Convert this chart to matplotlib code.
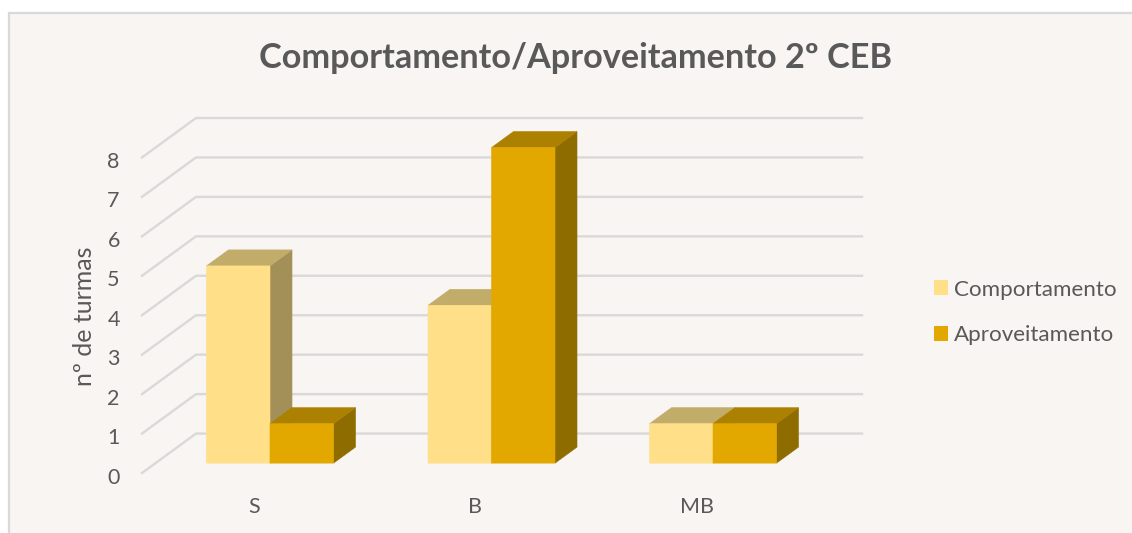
import matplotlib
matplotlib.use("Agg")
import matplotlib.pyplot as plt
from matplotlib.patches import Rectangle, Polygon, Patch
from matplotlib.transforms import ScaledTranslation

categories = ["S", "B", "MB"]
comportamento = [5, 4, 1]
aproveitamento = [1, 8, 1]
y_ticks = [0, 1, 2, 3, 4, 5, 6, 7, 8]

W, H = 1132, 533
plt.rcParams['font.family'] = ['Lato', 'DejaVu Sans']
TXT = '#595959'
GRID = '#D9D9D9'
BG = '#F8F5F2'

fig = plt.figure(figsize=(W/100, H/100), dpi=100, facecolor='white')
fig.add_artist(Rectangle((8.5/W, -0.02), 1.1, 1-12.5/H+0.02, transform=fig.transFigure,
                         facecolor=BG, edgecolor=GRID, linewidth=1.6, zorder=-5))

# axes: y=0 at px 473, y=9 at px 118; x from px 142 to 862
ax = fig.add_axes([142/W, 1-473/H, 720/W, 355/H])
ax.patch.set_alpha(0)
unit_x = 221.5
x0 = (142-270)/unit_x
x1 = (862-270)/unit_x
ax.set_xlim(x0, x1)
ax.set_ylim(0, 9)
for s in ax.spines.values():
    s.set_visible(False)

wall_dx = 54/unit_x
for k in range(len(y_ticks)+0):
    ax.plot([x0, x0+wall_dx, x1], [k, k+1, k+1], color=GRID, lw=1.7, zorder=1,
            solid_joinstyle='miter', clip_on=False)

bar_w = 63.5/unit_x
floor = 0.25
dx = 22/unit_x
dy = 0.406

def box(x, v, front, top, side, z):
    y0, y1 = floor, floor+v
    ax.add_patch(Polygon([(x+bar_w, y0), (x+bar_w+dx, y0+dy), (x+bar_w+dx, y1+dy), (x+bar_w, y1)],
                         closed=True, fc=side, ec=side, lw=0.4, zorder=z, snap=False))
    ax.add_patch(Polygon([(x, y1), (x+dx, y1+dy), (x+bar_w+dx, y1+dy), (x+bar_w, y1)],
                         closed=True, fc=top, ec=top, lw=0.4, zorder=z, snap=False))
    ax.add_patch(Rectangle((x, y0), bar_w, v, fc=front, ec=front, lw=0.4, zorder=z, snap=False))

for i in range(len(categories)):
    box(i-bar_w, comportamento[i], '#FFDF88', '#C2AC6A', '#A38F58', 3)
    box(i, aproveitamento[i], '#E3A800', '#AC8000', '#8F6C00', 4)

ax.set_yticks(y_ticks)
ax.set_yticklabels([str(v) for v in y_ticks], fontsize=15.5, color=TXT)
ax.set_xticks([i-16/unit_x for i in range(len(categories))])
ax.set_xticklabels(categories, fontsize=15.5, color=TXT)
ax.tick_params(axis='y', length=0, pad=16)
ax.tick_params(axis='x', length=0, pad=17.5)
shift = ScaledTranslation(0, -2.5/100, fig.dpi_scale_trans)
for lbl in ax.get_yticklabels():
    lbl.set_transform(lbl.get_transform() + shift)
ax.set_ylabel('nº de turmas', fontsize=18, color=TXT)
ax.yaxis.set_label_coords((96-142)/720, (473-316.5)/355)

fig.text(575.5/W, 1-58.5/H, 'Comportamento/Aproveitamento 2º CEB', ha='center', va='center',
         fontsize=24.7, fontweight='bold', color=TXT)

handles = [Patch(fc='#FFDF88', ec='none', label='Comportamento'),
           Patch(fc='#E3A800', ec='none', label='Aproveitamento')]
fig.legend(handles=handles, loc='center left', bbox_to_anchor=(934/W, 1-312.5/H), frameon=False,
           fontsize=16.1, labelcolor=TXT, handlelength=0.63, handleheight=0.63,
           handletextpad=0.26, labelspacing=1.15, borderpad=0, borderaxespad=0)

fig.savefig('out.png', dpi=100, facecolor='white')
